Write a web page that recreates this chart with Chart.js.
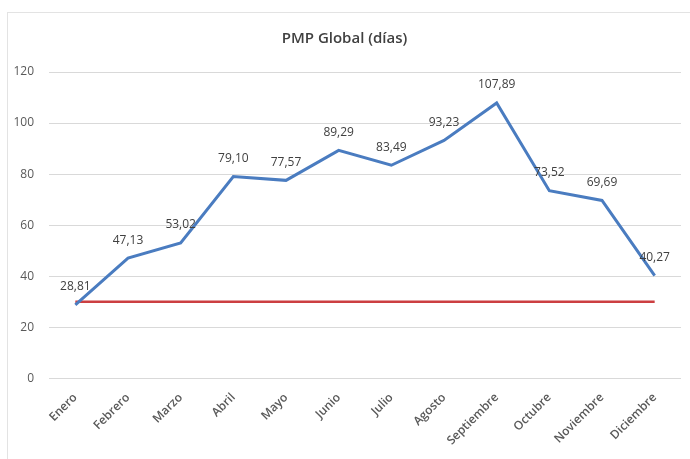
<!DOCTYPE html>
<html>
<head>
<meta charset="utf-8">
<script src="https://cdn.jsdelivr.net/npm/chart.js@4.4.0/dist/chart.umd.min.js"></script>
<style>
  html, body { margin: 0; padding: 0; background: #fff; }
  #wrap { width: 690px; height: 459px; position: relative; }
</style>
</head>
<body>
<div id="wrap"><canvas id="chart"></canvas></div>
<script>
// datos del grafico
const meses = ["Enero", "Febrero", "Marzo", "Abril", "Mayo", "Junio", "Julio", "Agosto", "Septiembre", "Octubre", "Noviembre", "Diciembre"];
const pmp = [28.81, 47.13, 53.02, 79.10, 77.57, 89.29, 83.49, 93.23, 107.89, 73.52, 69.69, 40.27];
const objetivo = [30, 30, 30, 30, 30, 30, 30, 30, 30, 30, 30, 30];
const ticksY = [0, 20, 40, 60, 80, 100, 120];

const fuente = "'Open Sans', 'Liberation Sans', sans-serif";

// marco gris alrededor del grafico
const marco = {
    id: 'marco',
    beforeDraw(chart) {
        const ctx = chart.ctx;
        ctx.save();
        ctx.strokeStyle = '#e3e3e3';
        ctx.lineWidth = 1;
        ctx.strokeRect(7.5, 12.5, chart.width, chart.height);
        ctx.restore();
    }
};

// etiquetas de valores sobre cada punto
const etiquetas = {
    id: 'etiquetas',
    afterDatasetsDraw(chart) {
        const ctx = chart.ctx;
        const meta = chart.getDatasetMeta(0);
        ctx.save();
        ctx.font = '12px ' + fuente;
        ctx.fillStyle = '#404040';
        ctx.textAlign = 'center';
        ctx.textBaseline = 'middle';
        meta.data.forEach((pt, i) => {
            const txt = pmp[i].toFixed(2).replace('.', ',');
            ctx.fillText(txt, pt.x, pt.y - 18);
        });
        ctx.restore();
    }
};

new Chart(document.getElementById('chart'), {
    type: 'line',
    data: {
        labels: meses,
        datasets: [{
            label: 'PMP',
            data: pmp,
            borderColor: '#4a7cc0',
            backgroundColor: '#4a7cc0',
            borderWidth: 3,
            pointRadius: 0,
            tension: 0
        }, {
            label: 'Objetivo',
            data: objetivo,
            borderColor: '#cc3f41',
            backgroundColor: '#cc3f41',
            borderWidth: 2.5,
            pointRadius: 0,
            tension: 0
        }]
    },
    options: {
        responsive: true,
        maintainAspectRatio: false,
        animation: false,
        layout: { padding: { left: 8, right: 9, top: 26, bottom: 7 } },
        plugins: {
            legend: { display: false },
            tooltip: { enabled: false },
            title: {
                display: true,
                text: 'PMP Global (días)',
                color: '#404040',
                font: { family: fuente, size: 15, weight: '600' },
                padding: { top: 4, bottom: 24 }
            }
        },
        scales: {
            y: {
                min: 0,
                max: 120,
                afterBuildTicks(axis) {
                    axis.ticks = ticksY.map(v => ({ value: v }));
                },
                afterFit(axis) {
                    axis.width = 41;
                },
                grid: { color: '#d9d9d9', drawTicks: false },
                border: { display: false },
                ticks: {
                    color: '#595959',
                    padding: 15,
                    font: { family: fuente, size: 12 }
                }
            },
            x: {
                offset: true,
                grid: { display: false },
                border: { display: false },
                ticks: {
                    color: '#595959',
                    minRotation: 45,
                    maxRotation: 45,
                    padding: 4,
                    font: { family: fuente, size: 12, weight: '600' }
                }
            }
        }
    },
    plugins: [marco, etiquetas]
});
</script>
</body>
</html>
